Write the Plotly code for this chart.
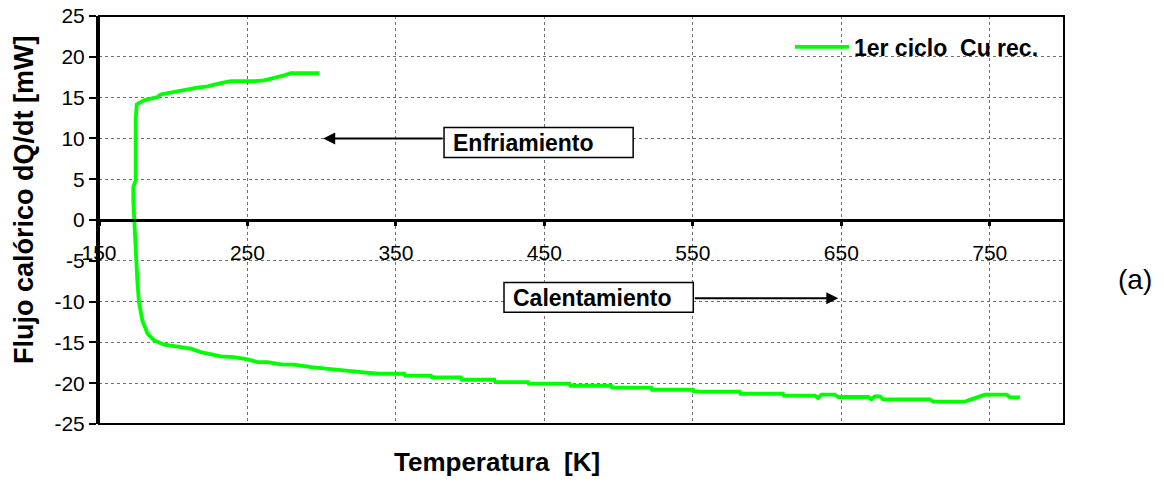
import plotly.graph_objects as go

# DSC first cycle, recovered Cu: heat flow vs temperature
temp_k = [
    298.3, 279.2, 274.7, 268.0, 261.2, 254.5, 238.7, 232.0, 223.0, 216.3,
    209.5, 200.5, 191.5, 189.3, 184.8, 180.3, 176.9, 175.4, 174.7, 174.7,
    173.1, 173.1, 174.0, 174.7, 175.8, 176.9, 179.2, 182.6, 187.0, 193.8,
    205.0, 211.8, 218.5, 232.0, 241.0, 250.0, 256.7, 263.5, 272.5, 281.4,
    292.7, 306.2, 319.7, 337.7, 355.6, 356.2, 373.6, 374.2, 393.8, 394.4,
    416.3, 416.9, 438.8, 439.4, 466.9, 467.5, 495.0, 495.6, 522.0, 522.6,
    550.1, 550.7, 581.5, 582.1, 610.7, 611.3, 632.1, 634.4, 636.6, 645.6,
    647.8, 668.1, 670.3, 672.5, 675.9, 678.2, 709.6, 711.9, 733.2, 735.5,
    740.0, 744.5, 746.7, 761.3, 763.6, 770.3,
]
flujo_mw = [
    18.0, 18.0, 17.72, 17.44, 17.11, 17.02, 17.02, 16.78, 16.37, 16.21,
    15.97, 15.67, 15.39, 15.06, 14.86, 14.66, 14.33, 14.17, 12.2, 4.85,
    4.03, 2.4, -0.87, -4.13, -7.4, -10.06, -12.3, -13.9, -14.75, -15.28,
    -15.57, -15.77, -16.19, -16.72, -16.8, -17.08, -17.41, -17.41, -17.7, -17.73,
    -18.02, -18.22, -18.51, -18.84, -18.84, -19.08, -19.08, -19.29, -19.29, -19.58,
    -19.58, -19.86, -19.86, -20.06, -20.06, -20.31, -20.31, -20.55, -20.55, -20.80,
    -20.80, -21.04, -21.04, -21.29, -21.29, -21.53, -21.53, -21.82, -21.41, -21.41,
    -21.69, -21.69, -21.98, -21.61, -21.61, -21.98, -21.98, -22.27, -22.27, -22.1,
    -21.8, -21.55, -21.41, -21.41, -21.74, -21.74,
]

x_ticks = [150, 250, 350, 450, 550, 650, 750]
y_ticks = [25, 20, 15, 10, 5, 0, -5, -10, -15, -20, -25]
series_name = "1er ciclo  Cu rec."

FONT = "Liberation Sans, Arial, sans-serif"
GRID = "#707070"

fig = go.Figure()
fig.add_trace(go.Scatter(
    x=temp_k, y=flujo_mw, mode="lines", name="<b>" + series_name + "</b>",
    line=dict(color="#00ff00", width=3.8),
))

# white panel behind the legend (hides the grid there)
fig.add_shape(type="rect", xref="paper", yref="paper",
              x0=0.6953, x1=0.9938, y0=0.8505, y1=1.0,
              fillcolor="white", line=dict(width=0), layer="between")

# plot-area frame
fig.add_shape(type="rect", xref="paper", yref="paper", x0=0, x1=1, y0=0, y1=1,
              line=dict(color="black", width=2), layer="above")

# label boxes
fig.add_shape(type="rect", xref="x", yref="y", x0=382.4, x1=509.8, y0=7.67, y1=11.35,
              line=dict(color="black", width=1.5), fillcolor="white", layer="above")
fig.add_shape(type="rect", xref="x", yref="y", x0=422.8, x1=550.3, y0=-11.32, y1=-7.65,
              line=dict(color="black", width=1.5), fillcolor="white", layer="above")

annotations = [
    dict(text="<b>Enfriamiento</b>", x=387.0, y=9.4, xref="x", yref="y",
         xanchor="left", yanchor="middle", showarrow=False,
         font=dict(size=23)),
    dict(text="<b>Calentamiento</b>", x=427.8, y=-9.55, xref="x", yref="y",
         xanchor="left", yanchor="middle", showarrow=False,
         font=dict(size=23)),
    # arrows
    dict(text="", x=301, y=10.0, xref="x", yref="y", ax=382.4, ay=10.0,
         axref="x", ayref="y", showarrow=True, arrowhead=2, arrowsize=1.2,
         arrowwidth=2, arrowcolor="black"),
    dict(text="", x=648, y=-9.6, xref="x", yref="y", ax=550.3, ay=-9.6,
         axref="x", ayref="y", showarrow=True, arrowhead=2, arrowsize=1.2,
         arrowwidth=2, arrowcolor="black"),
    # axis titles
    dict(text="<b>Temperatura  [K]</b>", x=0.412, y=-0.093, xref="paper", yref="paper",
         xanchor="center", yanchor="middle", showarrow=False, font=dict(size=26)),
    dict(text="<b>Flujo calórico dQ/dt [mW]</b>", x=-0.0777, y=0.549,
         xref="paper", yref="paper", xanchor="center", yanchor="middle",
         textangle=-90, showarrow=False, font=dict(size=27)),
    dict(text="(a)", x=1.0736, y=0.353, xref="paper", yref="paper",
         xanchor="center", yanchor="middle", showarrow=False, font=dict(size=28)),
]

fig.update_layout(
    width=1164, height=482,
    margin=dict(l=99, r=100, t=16, b=58),
    plot_bgcolor="white", paper_bgcolor="white",
    font=dict(family=FONT, size=21, color="black"),
    showlegend=True,
    legend=dict(x=0.716, y=0.924, xanchor="left", yanchor="middle",
                bgcolor="rgba(0,0,0,0)", borderwidth=0, itemwidth=54,
                font=dict(size=23)),
    annotations=annotations,
    xaxis=dict(
        range=[150, 800], tickmode="array", tickvals=x_ticks,
        ticktext=[str(v) for v in x_ticks],
        showgrid=True, gridcolor=GRID, griddash="dot", gridwidth=1,
        showline=True, linecolor="black", linewidth=3,
        ticks="outside", ticklen=4, tickwidth=3, tickcolor="black",
        anchor="free", position=0.5, zeroline=False, automargin=False,
        ticklabelstandoff=9, tickfont=dict(size=21),
    ),
    yaxis=dict(
        range=[-25, 25], tickmode="array", tickvals=y_ticks,
        ticktext=[str(v) for v in y_ticks],
        showgrid=True, gridcolor=GRID, griddash="dot", gridwidth=1,
        showline=True, linecolor="black", linewidth=3,
        ticks="outside", ticklen=7, tickwidth=2, tickcolor="black",
        zeroline=False, automargin=False, tickfont=dict(size=21),
    ),
)

fig.write_html("out.html")
